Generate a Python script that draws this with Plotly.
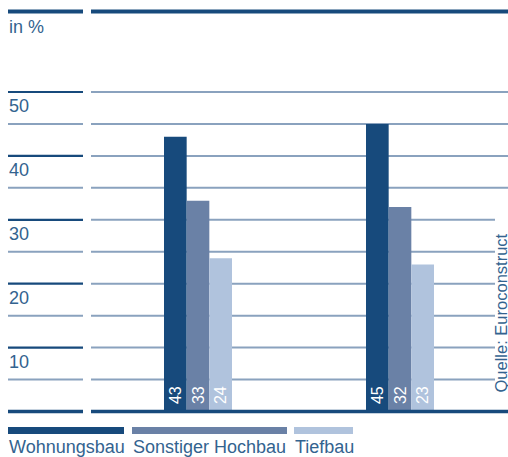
import plotly.graph_objects as go

# ---- data ----
years = ["2009", "2013"]
series_names = ["Wohnungsbau", "Sonstiger Hochbau", "Tiefbau"]
wohnungsbau = [43, 45]
sonstiger_hochbau = [33, 32]
tiefbau = [24, 23]
tick_values = [10, 20, 30, 40, 50]
tick_labels = ["10", "20", "30", "40", "50"]
grid_values = [5, 10, 15, 20, 25, 30, 35, 40, 45, 50]
unit_label = "in %"
source_label = "Quelle: Euroconstruct"

# ---- style ----
W, H = 508, 457
DARK = "#174a7c"
MID = "#6a81a6"
LIGHT = "#b0c3dd"
GRID = "#8aa2be"
TEXT = "#33638f"
FONT = "Liberation Sans"
colors = [DARK, MID, LIGHT]

def px(x):
    return x / W

def py(y):
    return 1 - y / H

# y scale: 0 at 411.5 px, 50 at 92 px
ppu = (411.5 - 92) / 50.0
y_top = 411.5 / ppu
y_bot = -(H - 411.5) / ppu

fig = go.Figure()
for name, vals, col in zip(series_names, [wohnungsbau, sonstiger_hochbau, tiefbau], colors):
    fig.add_trace(go.Bar(
        x=years, y=vals, name=name, marker=dict(color=col, line=dict(width=0)),
        text=["\u00a0" + str(v) for v in vals], textposition="inside", insidetextanchor="start",
        textangle=-90, textfont=dict(color="white", size=16, family=FONT),
        constraintext="none", cliponaxis=False, showlegend=False,
    ))

shapes = []
for v in grid_values:
    left_col = DARK if v % 10 == 0 else GRID
    shapes.append(dict(type="line", xref="paper", yref="y", x0=px(8), x1=px(83), y0=v, y1=v,
                       line=dict(color=left_col, width=2.2 if v % 10 == 0 else 2), layer="below"))
    x_end = 508 if v >= 35 else 495
    shapes.append(dict(type="line", xref="paper", yref="y", x0=px(91), x1=px(x_end), y0=v, y1=v,
                       line=dict(color=GRID, width=2), layer="below"))
# baseline and top rule
for a, b in [(8, 83), (91, 508)]:
    shapes.append(dict(type="line", xref="paper", yref="y", x0=px(a), x1=px(b), y0=0, y1=0,
                       line=dict(color=DARK, width=3.5), layer="above"))
    shapes.append(dict(type="line", xref="paper", yref="paper", x0=px(a), x1=px(b), y0=py(11.5), y1=py(11.5),
                       line=dict(color=DARK, width=4), layer="above"))

annotations = []
for v, t in zip(tick_values, tick_labels):
    annotations.append(dict(x=px(7), xref="paper", xanchor="left", y=v - 14 / ppu, yref="y",
                            yanchor="middle", text=t, showarrow=False,
                            font=dict(size=18, color=TEXT, family=FONT)))
annotations.append(dict(x=px(7), xref="paper", xanchor="left", y=py(27), yref="paper",
                        yanchor="middle", text=unit_label, showarrow=False,
                        font=dict(size=18, color=TEXT, family=FONT)))
for yr in years:
    annotations.append(dict(x=yr, xref="x", xanchor="center", y=py(27), yref="paper",
                            yanchor="middle", text="<b>" + yr + "</b>", showarrow=False,
                            font=dict(size=18, color="#1f4e7e", family=FONT)))
annotations.append(dict(x=px(500.5), xref="paper", xanchor="center", y=py(313), yref="paper",
                        yanchor="middle", text=source_label, textangle=-90, showarrow=False,
                        font=dict(size=16.5, color=TEXT, family=FONT)))

# legend (custom)
legend_pos = [(8, 124), (132, 287), (294, 353)]
for name, col, (a, b) in zip(series_names, colors, legend_pos):
    shapes.append(dict(type="line", xref="paper", yref="paper", x0=px(a), x1=px(b),
                       y0=py(430.5), y1=py(430.5), line=dict(color=col, width=7)))
    annotations.append(dict(x=px(a - 1), xref="paper", xanchor="left", y=py(447), yref="paper",
                            yanchor="middle", text=name, showarrow=False,
                            font=dict(size=18, color=TEXT, family=FONT)))

fig.update_layout(
    width=W, height=H, margin=dict(l=0, r=0, t=0, b=0),
    paper_bgcolor="white", plot_bgcolor="white",
    barmode="group", bargap=1 - 68 / 202, bargroupgap=0,
    xaxis=dict(type="category", range=[-198 / 202, (508 - 198) / 202], visible=False, fixedrange=True),
    yaxis=dict(range=[y_bot, y_top], visible=False, fixedrange=True),
    shapes=shapes, annotations=annotations, showlegend=False,
)

fig.write_html("out.html")
